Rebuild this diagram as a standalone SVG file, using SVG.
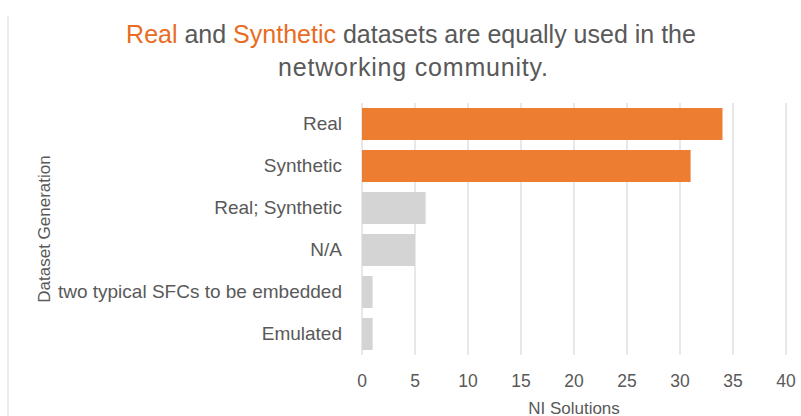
<svg xmlns="http://www.w3.org/2000/svg" width="801" height="416" viewBox="0 0 801 416">
<style>
text{font-family:"Liberation Sans",Arial,sans-serif;fill:#595959}
.cat{font-size:19px;text-anchor:end}
.tick{font-size:17.5px;text-anchor:middle}
.grid{stroke:#D9D9D9;stroke-width:1.2}
.or{fill:#ED7D31}
.gr{fill:#D4D4D4}
.hl{fill:#E86C24}
</style>
<rect width="801" height="416" fill="#FFFFFF"/>
<line x1="8" y1="16" x2="8" y2="416" stroke="#D9D9D9" stroke-width="1"/>
<g id="title">
<text x="411" y="43" font-size="25" text-anchor="middle"><tspan class="hl">Real</tspan> and <tspan class="hl">Synthetic</tspan> datasets are equally used in the</text>
<text x="413" y="76" font-size="25" text-anchor="middle" textLength="270" lengthAdjust="spacing">networking community.</text>
</g>
<g id="gridlines">
<line class="grid" x1="362" y1="103" x2="362" y2="355"/>
<line class="grid" x1="415" y1="103" x2="415" y2="355"/>
<line class="grid" x1="468" y1="103" x2="468" y2="355"/>
<line class="grid" x1="521" y1="103" x2="521" y2="355"/>
<line class="grid" x1="574" y1="103" x2="574" y2="355"/>
<line class="grid" x1="627" y1="103" x2="627" y2="355"/>
<line class="grid" x1="680" y1="103" x2="680" y2="355"/>
<line class="grid" x1="733" y1="103" x2="733" y2="355"/>
<line class="grid" x1="786" y1="103" x2="786" y2="355"/>
</g>
<g id="bars">
<rect class="or" x="362" y="108" width="360.5" height="32"/>
<rect class="or" x="362" y="150" width="328.6" height="32"/>
<rect class="gr" x="362" y="192" width="63.6" height="32"/>
<rect class="gr" x="362" y="234" width="53" height="32"/>
<rect class="gr" x="362" y="276" width="10.6" height="32"/>
<rect class="gr" x="362" y="318" width="10.6" height="32"/>
</g>
<g id="categories">
<text class="cat" x="342" y="130">Real</text>
<text class="cat" x="342" y="172">Synthetic</text>
<text class="cat" x="342" y="214">Real; Synthetic</text>
<text class="cat" x="342" y="256">N/A</text>
<text class="cat" x="342" y="298">two typical SFCs to be embedded</text>
<text class="cat" x="342" y="340">Emulated</text>
</g>
<g id="ticks">
<text class="tick" x="362" y="387">0</text>
<text class="tick" x="415" y="387">5</text>
<text class="tick" x="468" y="387">10</text>
<text class="tick" x="521" y="387">15</text>
<text class="tick" x="574" y="387">20</text>
<text class="tick" x="627" y="387">25</text>
<text class="tick" x="680" y="387">30</text>
<text class="tick" x="733" y="387">35</text>
<text class="tick" x="786" y="387">40</text>
</g>
<g id="axis-titles">
<text x="574" y="413.5" font-size="17" text-anchor="middle">NI Solutions</text>
<text x="49.5" y="229" font-size="17" text-anchor="middle" transform="rotate(-90 49.5 229)">Dataset Generation</text>
</g>
</svg>
